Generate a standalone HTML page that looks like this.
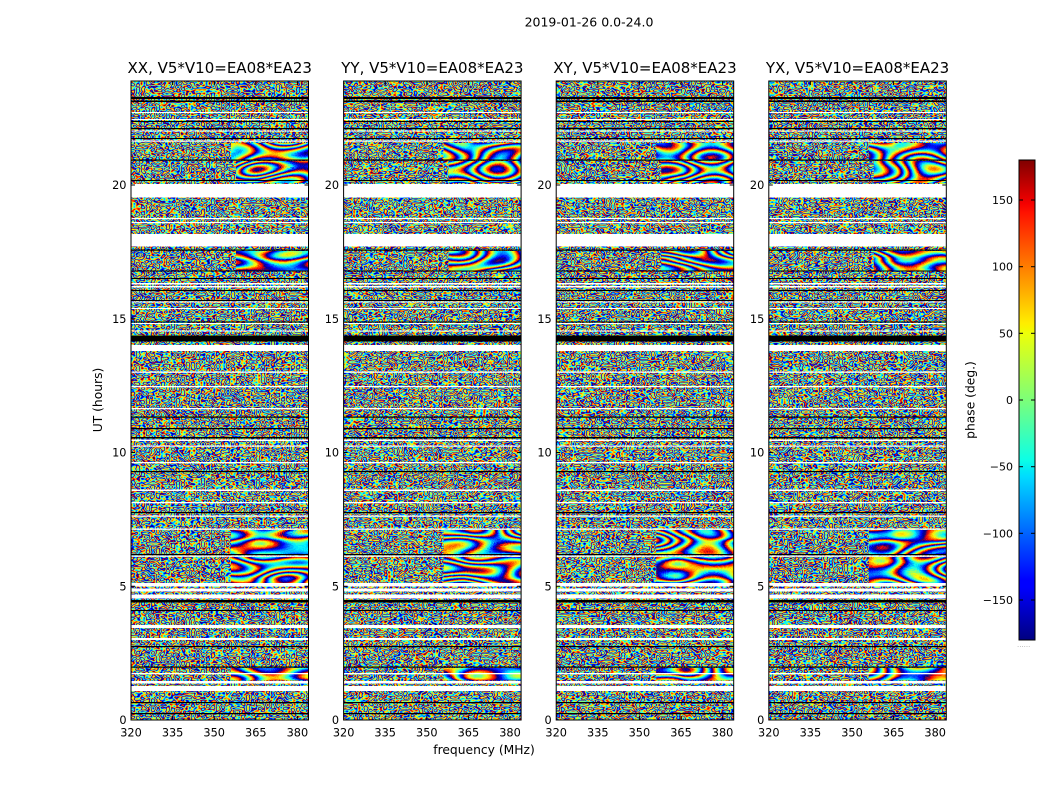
<!DOCTYPE html>
<html><head><meta charset="utf-8"><style>
html,body{margin:0;padding:0;background:#fff;}
svg{display:block;}
text{font-family:"DejaVu Sans","Liberation Sans",sans-serif;fill:#000;}
</style></head><body>
<svg width="1050" height="800" viewBox="0 0 1050 800" xmlns="http://www.w3.org/2000/svg">
<defs>
<linearGradient id="jet" x1="0" y1="1" x2="0" y2="0">
<stop offset="0" stop-color="#000080"/><stop offset="0.11" stop-color="#0000ff"/><stop offset="0.125" stop-color="#0000ff"/>
<stop offset="0.34" stop-color="#00dbff"/><stop offset="0.35" stop-color="#00e5f8"/><stop offset="0.375" stop-color="#0cffe6"/>
<stop offset="0.5" stop-color="#7cff79"/><stop offset="0.64" stop-color="#eeff08"/><stop offset="0.65" stop-color="#f7f500"/>
<stop offset="0.66" stop-color="#ffed00"/><stop offset="0.89" stop-color="#ff1300"/><stop offset="0.91" stop-color="#f40000"/>
<stop offset="1" stop-color="#800000"/>
</linearGradient>

<filter id="fine1" x="0" y="0" width="1" height="1" color-interpolation-filters="sRGB">
<feTurbulence type="fractalNoise" baseFrequency="0.2 0.28" numOctaves="1" seed="3"/>
<feColorMatrix type="matrix" values="1 0 0 0 0 1 0 0 0 0 1 0 0 0 0 0 0 0 0 1"/>
<feComponentTransfer>
<feFuncR type="table" tableValues="0 0 0 0 .5 1 1 1 0 0 0 0 .5 1 1 1 0 0 0 0 .5 1 1 1 0 0 0 0 .5 1 1 1 0 0 0 0 .5 1 1 1 .5"/>
<feFuncG type="table" tableValues="0 0 .5 1 1 1 .5 0 0 0 .5 1 1 1 .5 0 0 0 .5 1 1 1 .5 0 0 0 .5 1 1 1 .5 0 0 0 .5 1 1 1 .5 0 0"/>
<feFuncB type="table" tableValues=".5 1 1 1 .5 0 0 0 .5 1 1 1 .5 0 0 0 .5 1 1 1 .5 0 0 0 .5 1 1 1 .5 0 0 0 .5 1 1 1 .5 0 0 0 0"/>
</feComponentTransfer>
<feComposite operator="in" in2="SourceGraphic"/>
</filter>
<filter id="fine2" x="0" y="0" width="1" height="1" color-interpolation-filters="sRGB">
<feTurbulence type="fractalNoise" baseFrequency="0.2 0.28" numOctaves="1" seed="11"/>
<feColorMatrix type="matrix" values="1 0 0 0 0 1 0 0 0 0 1 0 0 0 0 0 0 0 0 1"/>
<feComponentTransfer>
<feFuncR type="table" tableValues="0 0 0 0 .5 1 1 1 0 0 0 0 .5 1 1 1 0 0 0 0 .5 1 1 1 0 0 0 0 .5 1 1 1 0 0 0 0 .5 1 1 1 .5"/>
<feFuncG type="table" tableValues="0 0 .5 1 1 1 .5 0 0 0 .5 1 1 1 .5 0 0 0 .5 1 1 1 .5 0 0 0 .5 1 1 1 .5 0 0 0 .5 1 1 1 .5 0 0"/>
<feFuncB type="table" tableValues=".5 1 1 1 .5 0 0 0 .5 1 1 1 .5 0 0 0 .5 1 1 1 .5 0 0 0 .5 1 1 1 .5 0 0 0 .5 1 1 1 .5 0 0 0 0"/>
</feComponentTransfer>
<feComposite operator="in" in2="SourceGraphic"/>
</filter>
<filter id="fine3" x="0" y="0" width="1" height="1" color-interpolation-filters="sRGB">
<feTurbulence type="fractalNoise" baseFrequency="0.2 0.28" numOctaves="1" seed="27"/>
<feColorMatrix type="matrix" values="1 0 0 0 0 1 0 0 0 0 1 0 0 0 0 0 0 0 0 1"/>
<feComponentTransfer>
<feFuncR type="table" tableValues="0 0 0 0 .5 1 1 1 0 0 0 0 .5 1 1 1 0 0 0 0 .5 1 1 1 0 0 0 0 .5 1 1 1 0 0 0 0 .5 1 1 1 .5"/>
<feFuncG type="table" tableValues="0 0 .5 1 1 1 .5 0 0 0 .5 1 1 1 .5 0 0 0 .5 1 1 1 .5 0 0 0 .5 1 1 1 .5 0 0 0 .5 1 1 1 .5 0 0"/>
<feFuncB type="table" tableValues=".5 1 1 1 .5 0 0 0 .5 1 1 1 .5 0 0 0 .5 1 1 1 .5 0 0 0 .5 1 1 1 .5 0 0 0 .5 1 1 1 .5 0 0 0 0"/>
</feComponentTransfer>
<feComposite operator="in" in2="SourceGraphic"/>
</filter>
<filter id="fine4" x="0" y="0" width="1" height="1" color-interpolation-filters="sRGB">
<feTurbulence type="fractalNoise" baseFrequency="0.2 0.28" numOctaves="1" seed="42"/>
<feColorMatrix type="matrix" values="1 0 0 0 0 1 0 0 0 0 1 0 0 0 0 0 0 0 0 1"/>
<feComponentTransfer>
<feFuncR type="table" tableValues="0 0 0 0 .5 1 1 1 0 0 0 0 .5 1 1 1 0 0 0 0 .5 1 1 1 0 0 0 0 .5 1 1 1 0 0 0 0 .5 1 1 1 .5"/>
<feFuncG type="table" tableValues="0 0 .5 1 1 1 .5 0 0 0 .5 1 1 1 .5 0 0 0 .5 1 1 1 .5 0 0 0 .5 1 1 1 .5 0 0 0 .5 1 1 1 .5 0 0"/>
<feFuncB type="table" tableValues=".5 1 1 1 .5 0 0 0 .5 1 1 1 .5 0 0 0 .5 1 1 1 .5 0 0 0 .5 1 1 1 .5 0 0 0 .5 1 1 1 .5 0 0 0 0"/>
</feComponentTransfer>
<feComposite operator="in" in2="SourceGraphic"/>
</filter>

<filter id="fr1" x="0" y="0" width="1" height="1" color-interpolation-filters="sRGB">
<feTurbulence type="fractalNoise" baseFrequency="0.016 0.05" numOctaves="1" seed="5"/>
<feColorMatrix type="matrix" values="1 0 0 0 0 1 0 0 0 0 1 0 0 0 0 0 0 0 0 1"/>
<feComponentTransfer>
<feFuncR type="table" tableValues="0 0 0 0 .5 1 1 1 0 0 0 0 .5 1 1 1 0 0 0 0 .5 1 1 1 0 0 0 0 .5 1 1 1 0 0 0 0 .5 1 1 1 0 0 0 0 .5 1 1 1 0 0 0 0 .5 1 1 1 0 0 0 0 .5 1 1 1 0 0 0 0 .5 1 1 1 0 0 0 0 .5 1 1 1 .5"/>
<feFuncG type="table" tableValues="0 0 .5 1 1 1 .5 0 0 0 .5 1 1 1 .5 0 0 0 .5 1 1 1 .5 0 0 0 .5 1 1 1 .5 0 0 0 .5 1 1 1 .5 0 0 0 .5 1 1 1 .5 0 0 0 .5 1 1 1 .5 0 0 0 .5 1 1 1 .5 0 0 0 .5 1 1 1 .5 0 0 0 .5 1 1 1 .5 0 0"/>
<feFuncB type="table" tableValues=".5 1 1 1 .5 0 0 0 .5 1 1 1 .5 0 0 0 .5 1 1 1 .5 0 0 0 .5 1 1 1 .5 0 0 0 .5 1 1 1 .5 0 0 0 .5 1 1 1 .5 0 0 0 .5 1 1 1 .5 0 0 0 .5 1 1 1 .5 0 0 0 .5 1 1 1 .5 0 0 0 .5 1 1 1 .5 0 0 0 0"/>
</feComponentTransfer>
<feComposite operator="in" in2="SourceGraphic"/>
</filter>
<filter id="fr2" x="0" y="0" width="1" height="1" color-interpolation-filters="sRGB">
<feTurbulence type="fractalNoise" baseFrequency="0.016 0.05" numOctaves="1" seed="17"/>
<feColorMatrix type="matrix" values="1 0 0 0 0 1 0 0 0 0 1 0 0 0 0 0 0 0 0 1"/>
<feComponentTransfer>
<feFuncR type="table" tableValues="0 0 0 0 .5 1 1 1 0 0 0 0 .5 1 1 1 0 0 0 0 .5 1 1 1 0 0 0 0 .5 1 1 1 0 0 0 0 .5 1 1 1 0 0 0 0 .5 1 1 1 0 0 0 0 .5 1 1 1 0 0 0 0 .5 1 1 1 0 0 0 0 .5 1 1 1 0 0 0 0 .5 1 1 1 .5"/>
<feFuncG type="table" tableValues="0 0 .5 1 1 1 .5 0 0 0 .5 1 1 1 .5 0 0 0 .5 1 1 1 .5 0 0 0 .5 1 1 1 .5 0 0 0 .5 1 1 1 .5 0 0 0 .5 1 1 1 .5 0 0 0 .5 1 1 1 .5 0 0 0 .5 1 1 1 .5 0 0 0 .5 1 1 1 .5 0 0 0 .5 1 1 1 .5 0 0"/>
<feFuncB type="table" tableValues=".5 1 1 1 .5 0 0 0 .5 1 1 1 .5 0 0 0 .5 1 1 1 .5 0 0 0 .5 1 1 1 .5 0 0 0 .5 1 1 1 .5 0 0 0 .5 1 1 1 .5 0 0 0 .5 1 1 1 .5 0 0 0 .5 1 1 1 .5 0 0 0 .5 1 1 1 .5 0 0 0 .5 1 1 1 .5 0 0 0 0"/>
</feComponentTransfer>
<feComposite operator="in" in2="SourceGraphic"/>
</filter>
<filter id="fr3" x="0" y="0" width="1" height="1" color-interpolation-filters="sRGB">
<feTurbulence type="fractalNoise" baseFrequency="0.016 0.05" numOctaves="1" seed="33"/>
<feColorMatrix type="matrix" values="1 0 0 0 0 1 0 0 0 0 1 0 0 0 0 0 0 0 0 1"/>
<feComponentTransfer>
<feFuncR type="table" tableValues="0 0 0 0 .5 1 1 1 0 0 0 0 .5 1 1 1 0 0 0 0 .5 1 1 1 0 0 0 0 .5 1 1 1 0 0 0 0 .5 1 1 1 0 0 0 0 .5 1 1 1 0 0 0 0 .5 1 1 1 0 0 0 0 .5 1 1 1 0 0 0 0 .5 1 1 1 0 0 0 0 .5 1 1 1 .5"/>
<feFuncG type="table" tableValues="0 0 .5 1 1 1 .5 0 0 0 .5 1 1 1 .5 0 0 0 .5 1 1 1 .5 0 0 0 .5 1 1 1 .5 0 0 0 .5 1 1 1 .5 0 0 0 .5 1 1 1 .5 0 0 0 .5 1 1 1 .5 0 0 0 .5 1 1 1 .5 0 0 0 .5 1 1 1 .5 0 0 0 .5 1 1 1 .5 0 0"/>
<feFuncB type="table" tableValues=".5 1 1 1 .5 0 0 0 .5 1 1 1 .5 0 0 0 .5 1 1 1 .5 0 0 0 .5 1 1 1 .5 0 0 0 .5 1 1 1 .5 0 0 0 .5 1 1 1 .5 0 0 0 .5 1 1 1 .5 0 0 0 .5 1 1 1 .5 0 0 0 .5 1 1 1 .5 0 0 0 .5 1 1 1 .5 0 0 0 0"/>
</feComponentTransfer>
<feComposite operator="in" in2="SourceGraphic"/>
</filter>
<filter id="fr4" x="0" y="0" width="1" height="1" color-interpolation-filters="sRGB">
<feTurbulence type="fractalNoise" baseFrequency="0.016 0.05" numOctaves="1" seed="58"/>
<feColorMatrix type="matrix" values="1 0 0 0 0 1 0 0 0 0 1 0 0 0 0 0 0 0 0 1"/>
<feComponentTransfer>
<feFuncR type="table" tableValues="0 0 0 0 .5 1 1 1 0 0 0 0 .5 1 1 1 0 0 0 0 .5 1 1 1 0 0 0 0 .5 1 1 1 0 0 0 0 .5 1 1 1 0 0 0 0 .5 1 1 1 0 0 0 0 .5 1 1 1 0 0 0 0 .5 1 1 1 0 0 0 0 .5 1 1 1 0 0 0 0 .5 1 1 1 .5"/>
<feFuncG type="table" tableValues="0 0 .5 1 1 1 .5 0 0 0 .5 1 1 1 .5 0 0 0 .5 1 1 1 .5 0 0 0 .5 1 1 1 .5 0 0 0 .5 1 1 1 .5 0 0 0 .5 1 1 1 .5 0 0 0 .5 1 1 1 .5 0 0 0 .5 1 1 1 .5 0 0 0 .5 1 1 1 .5 0 0 0 .5 1 1 1 .5 0 0"/>
<feFuncB type="table" tableValues=".5 1 1 1 .5 0 0 0 .5 1 1 1 .5 0 0 0 .5 1 1 1 .5 0 0 0 .5 1 1 1 .5 0 0 0 .5 1 1 1 .5 0 0 0 .5 1 1 1 .5 0 0 0 .5 1 1 1 .5 0 0 0 .5 1 1 1 .5 0 0 0 .5 1 1 1 .5 0 0 0 .5 1 1 1 .5 0 0 0 0"/>
</feComponentTransfer>
<feComposite operator="in" in2="SourceGraphic"/>
</filter>

<g id="fringes">
<rect x="100" y="143" width="77.5" height="16.5"/>
<rect x="105" y="161" width="72.5" height="22"/>
<rect x="105" y="251" width="72.5" height="19.5"/>
<rect x="100" y="530" width="77.5" height="24"/>
<rect x="100" y="557" width="77.5" height="26"/>
<rect x="100" y="668" width="77.5" height="12.5"/>
</g>

<g id="bands">
<g fill="#fff">
<rect x="0" y="112" width="177.5" height="1"/>
<rect x="0" y="119" width="177.5" height="1"/>
<rect x="0" y="130.5" width="177.5" height="1"/>
<rect x="0" y="140.5" width="177.5" height="1.2"/>
<rect x="0" y="184" width="177.5" height="13.5"/>
<rect x="0" y="218" width="177.5" height="1.2"/>
<rect x="0" y="222" width="177.5" height="1.2"/>
<rect x="0" y="234" width="177.5" height="12.5"/>
<rect x="0" y="283" width="177.5" height="1.5"/>
<rect x="0" y="286" width="177.5" height="1.5"/>
<rect x="0" y="301.5" width="177.5" height="1"/>
<rect x="0" y="308" width="177.5" height="1"/>
<rect x="0" y="323" width="177.5" height="1"/>
<rect x="0" y="330.5" width="177.5" height="1"/>
<rect x="0" y="345" width="177.5" height="6"/>
<rect x="0" y="371.5" width="177.5" height="1.3"/>
<rect x="0" y="386" width="177.5" height="1.3"/>
<rect x="0" y="408" width="177.5" height="1.3"/>
<rect x="0" y="439.5" width="177.5" height="1.5"/>
<rect x="0" y="445.5" width="177.5" height="1.2"/>
<rect x="0" y="462" width="177.5" height="1.3"/>
<rect x="0" y="489.5" width="177.5" height="1.5"/>
<rect x="0" y="502" width="177.5" height="1.3"/>
<rect x="0" y="515.5" width="177.5" height="1.3"/>
<rect x="0" y="528.5" width="177.5" height="1.3"/>
<rect x="0" y="555.5" width="177.5" height="1.3"/>
<rect x="0" y="583" width="177.5" height="3.5"/>
<rect x="0" y="588.5" width="177.5" height="3"/>
<rect x="0" y="594.5" width="177.5" height="4"/>
<rect x="0" y="625" width="177.5" height="3"/>
<rect x="0" y="638" width="177.5" height="2"/>
<rect x="0" y="673" width="177.5" height="1.3"/>
<rect x="0" y="681" width="177.5" height="2.5"/>
<rect x="0" y="686" width="177.5" height="5"/>
</g>
<g fill="#000">
<rect x="0" y="97" width="177.5" height="2"/>
<rect x="0" y="100.5" width="177.5" height="1.5"/>
<rect x="0" y="121" width="177.5" height="1"/>
<rect x="0" y="128" width="177.5" height="1.2"/>
<rect x="0" y="138" width="177.5" height="1"/>
<rect x="0" y="159.5" width="177.5" height="1.2"/>
<rect x="0" y="180" width="177.5" height="1"/>
<rect x="0" y="249.5" width="177.5" height="1.2"/>
<rect x="0" y="270.5" width="177.5" height="1"/>
<rect x="0" y="278" width="177.5" height="1"/>
<rect x="0" y="290" width="177.5" height="1"/>
<rect x="0" y="300" width="177.5" height="1"/>
<rect x="0" y="321.5" width="177.5" height="1"/>
<rect x="0" y="335.5" width="177.5" height="6"/>
<rect x="0" y="416.5" width="177.5" height="1.2"/>
<rect x="0" y="428" width="177.5" height="1.2"/>
<rect x="0" y="437" width="177.5" height="1.5"/>
<rect x="0" y="471" width="177.5" height="1.2"/>
<rect x="0" y="512" width="177.5" height="1.2"/>
<rect x="0" y="554" width="177.5" height="1.2"/>
<rect x="0" y="600" width="177.5" height="2.5"/>
<rect x="0" y="610" width="177.5" height="1"/>
<rect x="0" y="646" width="177.5" height="1.2"/>
<rect x="0" y="666.5" width="177.5" height="1.2"/>
<rect x="0" y="702" width="177.5" height="1.2"/>
<rect x="0" y="713" width="177.5" height="1.2"/>
</g>
</g>

<g id="axes">
<rect x="0" y="81" width="177.5" height="639" fill="none" stroke="#000" stroke-width="1"/>
<g stroke="#000" stroke-width="1">
<line x1="0" y1="586.25" x2="4" y2="586.25"/><line x1="173.5" y1="586.25" x2="177.5" y2="586.25"/>
<line x1="0" y1="452.5" x2="4" y2="452.5"/><line x1="173.5" y1="452.5" x2="177.5" y2="452.5"/>
<line x1="0" y1="318.75" x2="4" y2="318.75"/><line x1="173.5" y1="318.75" x2="177.5" y2="318.75"/>
<line x1="0" y1="185" x2="4" y2="185"/><line x1="173.5" y1="185" x2="177.5" y2="185"/>
<line x1="41.6" y1="720" x2="41.6" y2="716"/><line x1="41.6" y1="81" x2="41.6" y2="85"/>
<line x1="83.2" y1="720" x2="83.2" y2="716"/><line x1="83.2" y1="81" x2="83.2" y2="85"/>
<line x1="124.8" y1="720" x2="124.8" y2="716"/><line x1="124.8" y1="81" x2="124.8" y2="85"/>
<line x1="166.4" y1="720" x2="166.4" y2="716"/><line x1="166.4" y1="81" x2="166.4" y2="85"/>
</g>
<g font-size="11.3" text-anchor="end">
<text x="-4.5" y="724">0</text>
<text x="-4.5" y="590.3">5</text>
<text x="-4.5" y="456.5">10</text>
<text x="-4.5" y="322.8">15</text>
<text x="-4.5" y="189">20</text>
</g>
<g font-size="11.3" text-anchor="middle">
<text x="0" y="736.5">320</text>
<text x="41.6" y="736.5">335</text>
<text x="83.2" y="736.5">350</text>
<text x="124.8" y="736.5">365</text>
<text x="166.4" y="736.5">380</text>
</g>
</g>
</defs>

<rect x="0" y="0" width="1050" height="800" fill="#fff"/>

<text x="589" y="26.5" font-size="12.5" text-anchor="middle">2019-01-26 0.0-24.0</text>

<g transform="translate(131,0)">
<rect x="0" y="81" width="177.5" height="639" fill="#000" filter="url(#fine1)"/>
<g filter="url(#fr1)"><use href="#fringes"/></g>
<use href="#bands"/>
<use href="#axes"/>
<text x="88.75" y="73" font-size="15" text-anchor="middle">XX, V5*V10=EA08*EA23</text>
</g>
<g transform="translate(343.6,0)">
<rect x="0" y="81" width="177.5" height="639" fill="#000" filter="url(#fine2)"/>
<g filter="url(#fr2)"><use href="#fringes"/></g>
<use href="#bands"/>
<use href="#axes"/>
<text x="88.75" y="73" font-size="15" text-anchor="middle">YY, V5*V10=EA08*EA23</text>
</g>
<g transform="translate(556.2,0)">
<rect x="0" y="81" width="177.5" height="639" fill="#000" filter="url(#fine3)"/>
<g filter="url(#fr3)"><use href="#fringes"/></g>
<use href="#bands"/>
<use href="#axes"/>
<text x="88.75" y="73" font-size="15" text-anchor="middle">XY, V5*V10=EA08*EA23</text>
</g>
<g transform="translate(768.8,0)">
<rect x="0" y="81" width="177.5" height="639" fill="#000" filter="url(#fine4)"/>
<g filter="url(#fr4)"><use href="#fringes"/></g>
<use href="#bands"/>
<use href="#axes"/>
<text x="88.75" y="73" font-size="15" text-anchor="middle">YX, V5*V10=EA08*EA23</text>
</g>

<text transform="translate(102,400) rotate(-90)" font-size="12.3" text-anchor="middle">UT (hours)</text>
<text x="484" y="754" font-size="12.3" text-anchor="middle">frequency (MHz)</text>

<rect x="1019" y="160" width="16" height="480" fill="url(#jet)" stroke="#000" stroke-width="1"/>
<g stroke="#000" stroke-width="1">
<line x1="1019" y1="200" x2="1023" y2="200"/><line x1="1031" y1="200" x2="1035" y2="200"/>
<line x1="1019" y1="266.7" x2="1023" y2="266.7"/><line x1="1031" y1="266.7" x2="1035" y2="266.7"/>
<line x1="1019" y1="333.3" x2="1023" y2="333.3"/><line x1="1031" y1="333.3" x2="1035" y2="333.3"/>
<line x1="1019" y1="400" x2="1023" y2="400"/><line x1="1031" y1="400" x2="1035" y2="400"/>
<line x1="1019" y1="466.7" x2="1023" y2="466.7"/><line x1="1031" y1="466.7" x2="1035" y2="466.7"/>
<line x1="1019" y1="533.3" x2="1023" y2="533.3"/><line x1="1031" y1="533.3" x2="1035" y2="533.3"/>
<line x1="1019" y1="600" x2="1023" y2="600"/><line x1="1031" y1="600" x2="1035" y2="600"/>
</g>
<g font-size="11" text-anchor="end">
<text x="1013" y="204">150</text>
<text x="1013" y="270.7">100</text>
<text x="1013" y="337.3">50</text>
<text x="1013" y="404">0</text>
<text x="1013" y="470.7">−50</text>
<text x="1013" y="537.3">−100</text>
<text x="1013" y="604">−150</text>
</g>
<text transform="translate(974.5,400) rotate(-90)" font-size="12.3" text-anchor="middle">phase (deg.)</text>
<text x="1017" y="647" font-size="7" style="fill:#aaa">......</text>
</svg>
</body></html>
